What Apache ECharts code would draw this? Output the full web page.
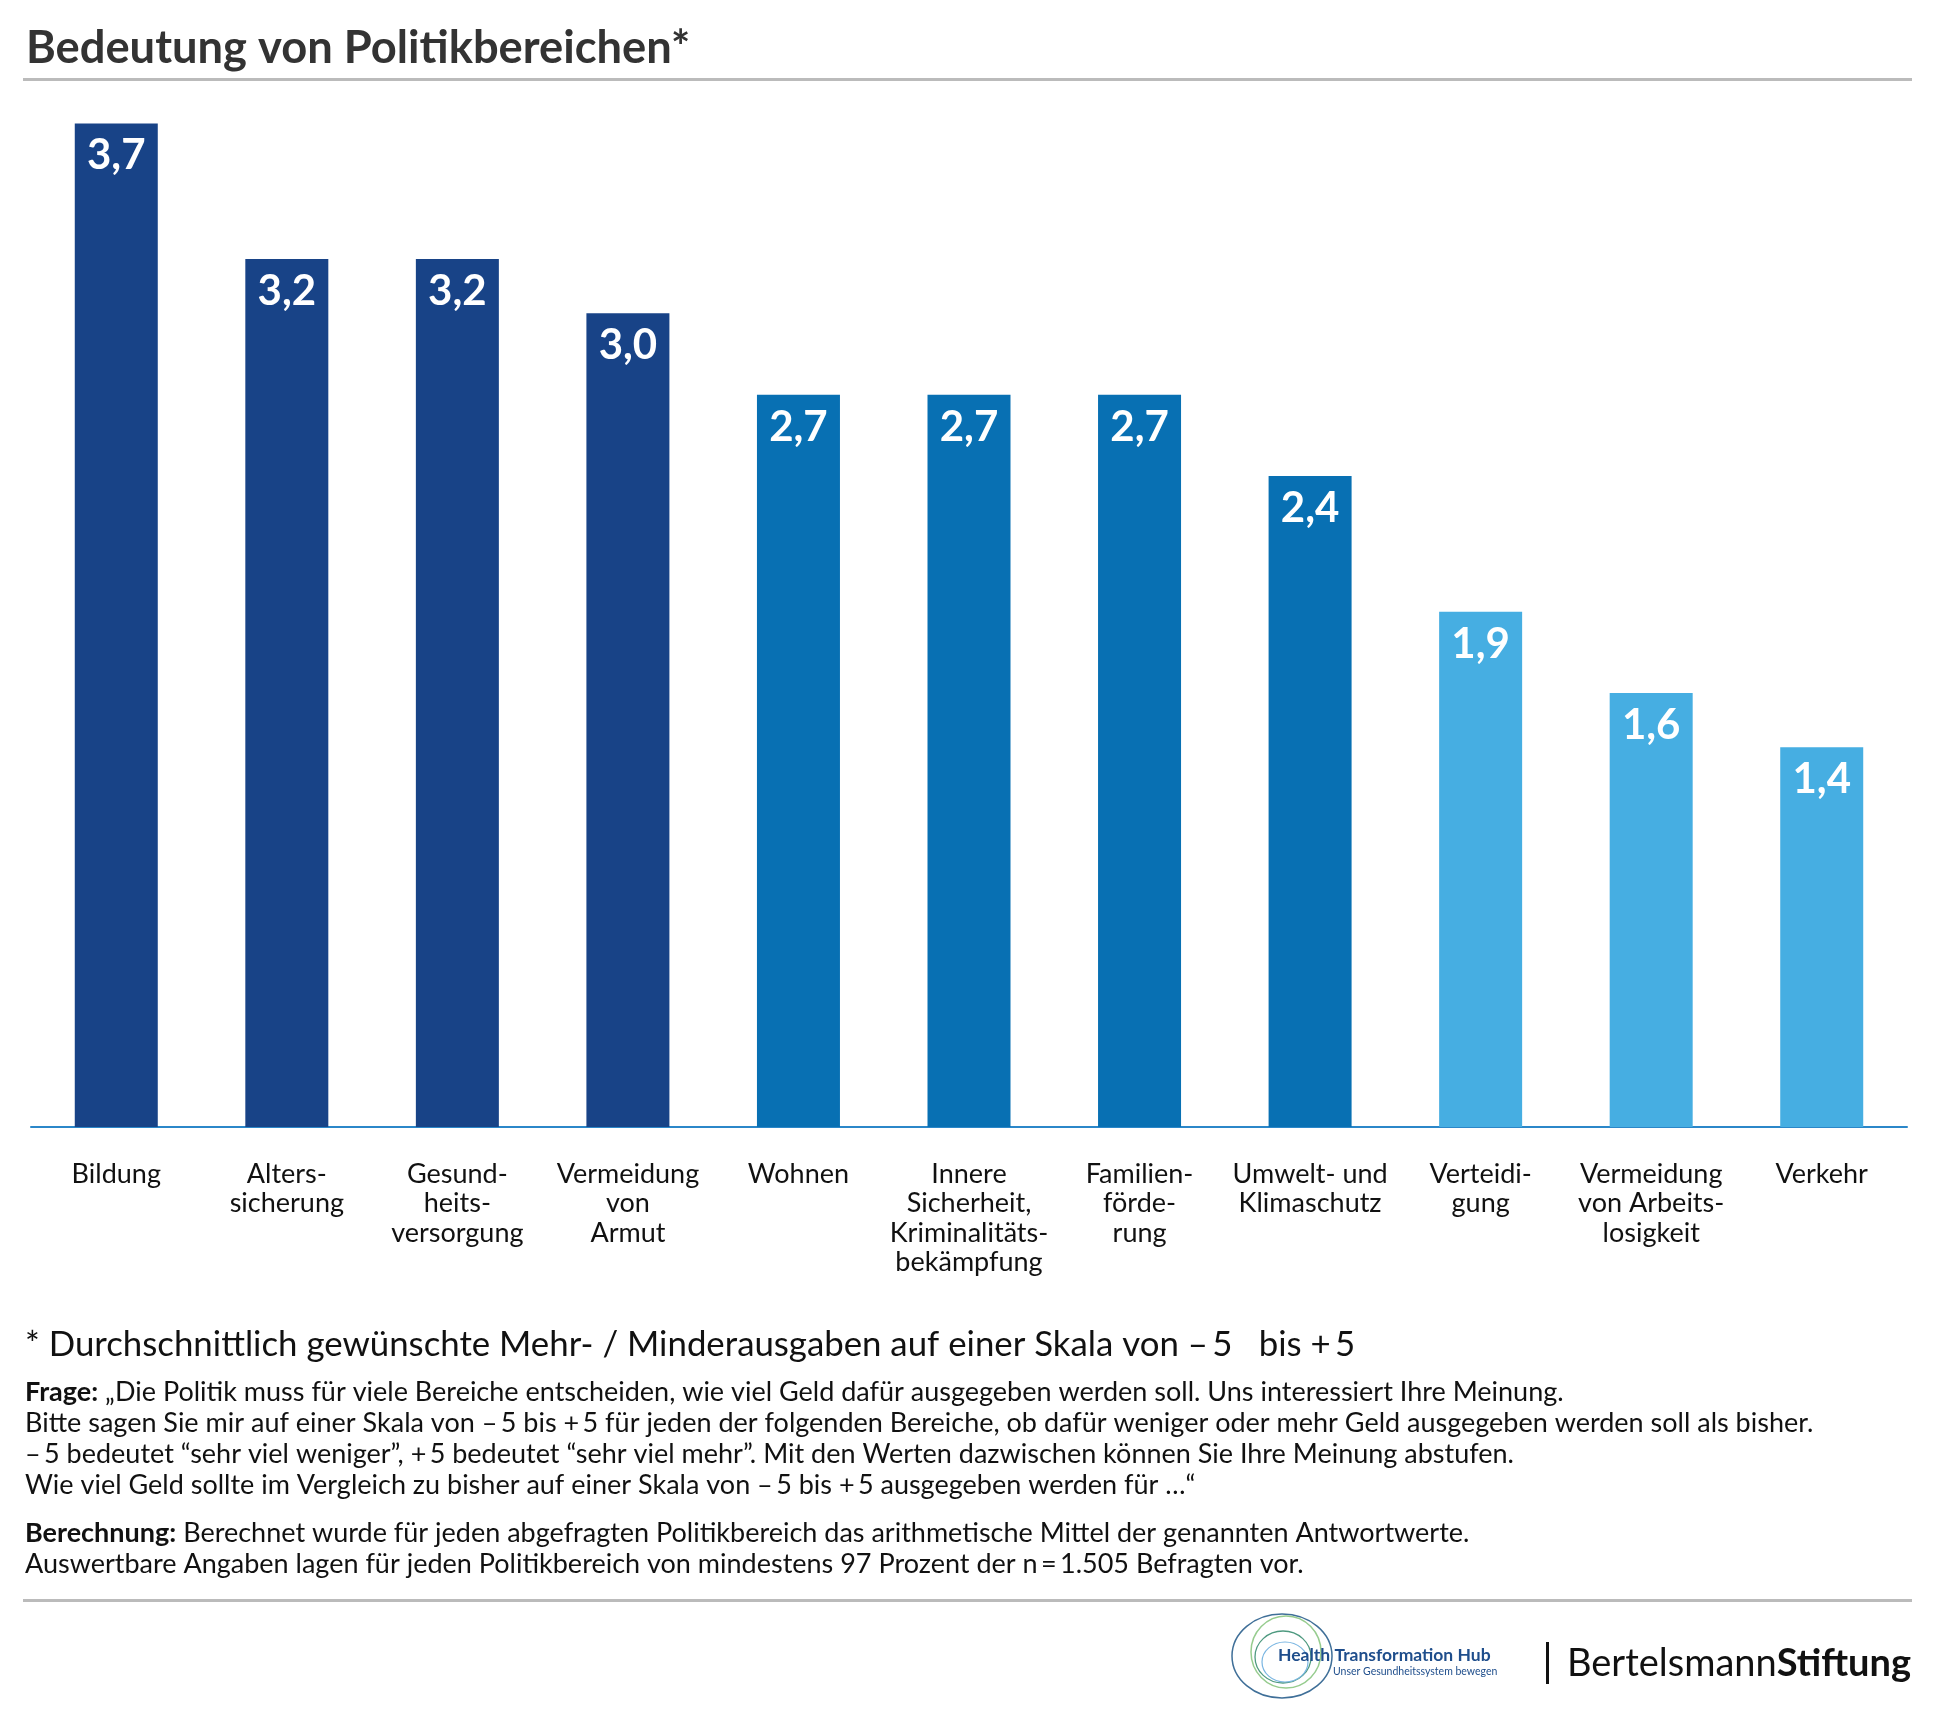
<!DOCTYPE html>
<html>
<head>
<meta charset="utf-8">
<script src="https://cdn.jsdelivr.net/npm/echarts@6/dist/echarts.min.js"></script>
<style>
html,body{margin:0;padding:0;background:#fff;}
#chart{width:1937px;height:1724px;}
</style>
</head>
<body>
<div id="chart"></div>
<script>
const categories = [
  "Bildung",
  "Alters-\nsicherung",
  "Gesund-\nheits-\nversorgung",
  "Vermeidung\nvon\nArmut",
  "Wohnen",
  "Innere\nSicherheit,\nKriminalitäts-\nbekämpfung",
  "Familien-\nförde-\nrung",
  "Umwelt- und\nKlimaschutz",
  "Verteidi-\ngung",
  "Vermeidung\nvon Arbeits-\nlosigkeit",
  "Verkehr"
];
const values = [3.7, 3.2, 3.2, 3.0, 2.7, 2.7, 2.7, 2.4, 1.9, 1.6, 1.4];
const colourGroup = [0, 0, 0, 0, 1, 1, 1, 1, 2, 2, 2];

const titleText = "Bedeutung von Politikbereichen*";
const footnote = "* Durchschnittlich gewünschte Mehr- / Minderausgaben auf einer Skala von –\u20095\u2002 bis +\u20095";
const frageLines = [
  "„Die Politik muss für viele Bereiche entscheiden, wie viel Geld dafür ausgegeben werden soll. Uns interessiert Ihre Meinung.",
  "Bitte sagen Sie mir auf einer Skala von –\u20095 bis +\u20095 für jeden der folgenden Bereiche, ob dafür weniger oder mehr Geld ausgegeben werden soll als bisher.",
  "–\u20095 bedeutet “sehr viel weniger”, +\u20095 bedeutet “sehr viel mehr”. Mit den Werten dazwischen können Sie Ihre Meinung abstufen.",
  "Wie viel Geld sollte im Vergleich zu bisher auf einer Skala von –\u20095 bis +\u20095 ausgegeben werden für …“"
];
const berechnungLines = [
  "Berechnet wurde für jeden abgefragten Politikbereich das arithmetische Mittel der genannten Antwortwerte.",
  "Auswertbare Angaben lagen für jeden Politikbereich von mindestens 97 Prozent der n\u2009=\u20091.505 Befragten vor."
];

const COLORS = ['#184387', '#0870b3', '#46aee2'];
const FONT = 'Lato, "Noto Sans", sans-serif';
const BODY = 27;

const chart = echarts.init(document.getElementById('chart'), null, {renderer: 'canvas'});

function textEl(x, baseline, size, rich, parts, fill) {
  return {
    type: 'text', x: x, y: baseline - size * 0.305,
    style: {
      text: parts, fontFamily: FONT, fontSize: size, fill: fill || '#111',
      verticalAlign: 'middle', align: 'left', rich: rich
    }
  };
}

const richBody = {
  b: {fontFamily: FONT, fontSize: BODY, fontWeight: 'bold', fill: '#111'},
  r: {fontFamily: FONT, fontSize: BODY, fill: '#111'}
};

const graphics = [
  {type: 'rect', shape: {x: 23, y: 78, width: 1889, height: 3}, style: {fill: '#bbbbbb'}},
  {type: 'rect', shape: {x: 23, y: 1599, width: 1889, height: 3}, style: {fill: '#bbbbbb'}},
  textEl(25, 1355, 34.8, null, footnote),
];
const frageBase = [1401, 1432, 1463, 1494];
frageLines.forEach((l, i) => {
  graphics.push(textEl(25, frageBase[i], BODY, richBody,
    i === 0 ? '{b|Frage:}{r| ' + l + '}' : '{r|' + l + '}'));
});
const berBase = [1542, 1573];
berechnungLines.forEach((l, i) => {
  graphics.push(textEl(25, berBase[i], BODY, richBody,
    i === 0 ? '{b|Berechnung:}{r| ' + l + '}' : '{r|' + l + '}'));
});
// Health Transformation Hub logo
graphics.push(
  {type: 'ellipse', shape: {cx: 1282, cy: 1656, rx: 50, ry: 42}, style: {fill: 'none', stroke: '#3f6f98', lineWidth: 1.5}},
  {type: 'ellipse', shape: {cx: 1286, cy: 1652, rx: 35, ry: 36}, style: {fill: 'none', stroke: '#96cc8e', lineWidth: 1.5}},
  {type: 'ellipse', shape: {cx: 1283, cy: 1657, rx: 28, ry: 26}, style: {fill: 'none', stroke: '#4f9a80', lineWidth: 1.3}},
  {type: 'ellipse', shape: {cx: 1285, cy: 1662, rx: 23, ry: 20}, style: {fill: 'none', stroke: '#7ab6e2', lineWidth: 1.2}},
  {type: 'text', x: 1278, y: 1664, style: {text: 'Health Transformation Hub', fontFamily: FONT, fontSize: 17.5, fontWeight: 'bold', fill: '#1f4e8c', verticalAlign: 'bottom', align: 'left'}},
  {type: 'text', x: 1333, y: 1677, style: {text: 'Unser Gesundheitssystem bewegen', fontFamily: FONT, fontSize: 10.5, fill: '#1f4e8c', verticalAlign: 'bottom', align: 'left'}},
  {type: 'rect', shape: {x: 1546, y: 1642, width: 3, height: 42}, style: {fill: '#111'}},
  {type: 'text', x: 1567, y: 1675 - 38 * 0.305, style: {
    text: '{r|Bertelsmann}{b|Stiftung}', verticalAlign: 'middle', align: 'left',
    rich: {
      r: {fontFamily: FONT, fontSize: 38, fill: '#111'},
      b: {fontFamily: FONT, fontSize: 38, fontWeight: 'bold', fill: '#111'}
    }
  }}
);

chart.setOption({
  animation: false,
  backgroundColor: '#ffffff',
  title: {
    text: titleText, left: 21, top: 21,
    textStyle: {fontFamily: FONT, fontSize: 45.3, fontWeight: 'bold', color: '#333333'}
  },
  grid: {left: 31, right: 30, top: 42, bottom: 597, containLabel: false},
  xAxis: {
    type: 'category', data: categories,
    axisLine: {show: true, lineStyle: {color: '#2b87c9', width: 2}},
    axisTick: {show: false},
    axisLabel: {
      interval: 0, margin: 32, fontFamily: FONT, fontSize: 27, lineHeight: 29.6,
      color: '#111', align: 'center'
    }
  },
  yAxis: {type: 'value', min: 0, max: 4, show: false, splitLine: {show: false}},
  series: [{
    type: 'bar', data: values, barWidth: 83,
    itemStyle: {color: p => COLORS[colourGroup[p.dataIndex]]},
    label: {
      show: true, position: 'insideTop', distance: 11.5,
      formatter: p => String(p.value.toFixed(1)).replace('.', ','),
      fontFamily: FONT, fontSize: 42, fontWeight: 'bold', color: '#ffffff'
    }
  }],
  graphic: graphics
});
</script>
</body>
</html>
